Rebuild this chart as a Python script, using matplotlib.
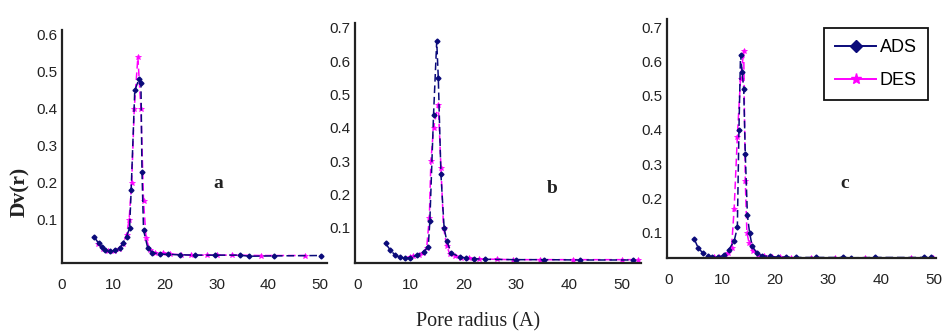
import matplotlib
matplotlib.use("Agg")
import matplotlib.pyplot as plt
from matplotlib.lines import Line2D
from matplotlib.axes import Axes

# | data |----------------------------------------------------------------------------------------------------------|
ads_a_r: list[float] = [6.2, 7.1, 7.7, 8.3, 9.3, 10.2, 11.2, 11.8, 12.5, 13.1, 13.4, 14.1, 14.9, 15.3, 15.5, 15.8,
                        16.6, 17.5, 19.0, 20.6, 22.9, 25.8, 29.6, 34.4, 36.3, 41.0, 50.2]
ads_a_v: list[float] = [0.055, 0.037, 0.026, 0.019, 0.015, 0.018, 0.023, 0.037, 0.055, 0.078, 0.18, 0.45, 0.48,
                        0.47, 0.23, 0.073, 0.025, 0.012, 0.008, 0.007, 0.006, 0.005, 0.005, 0.005, 0.002, 0.003,
                        0.004]
des_a_r: list[float] = [7.0, 8.0, 9.0, 10.0, 11.0, 11.8, 12.5, 13.0, 13.5, 14.0, 14.7, 15.3, 15.8, 16.3, 17.0,
                        18.0, 19.5, 21.0, 23.0, 25.0, 28.0, 30.0, 33.0, 38.5, 47.0]
des_a_v: list[float] = [0.035, 0.022, 0.016, 0.017, 0.022, 0.035, 0.06, 0.10, 0.20, 0.40, 0.54, 0.40, 0.15, 0.05,
                        0.02, 0.012, 0.010, 0.008, 0.006, 0.005, 0.005, 0.005, 0.005, 0.004, 0.004]

ads_b_r: list[float] = [5.2, 6.1, 7.0, 8.0, 8.9, 9.8, 11.1, 12.4, 13.3, 13.6, 14.3, 14.9, 15.2, 15.7, 16.3, 16.8,
                        17.7, 19.4, 20.5, 22.0, 24.0, 30.0, 35.2, 42.0, 52.0]
ads_b_v: list[float] = [0.053, 0.033, 0.018, 0.011, 0.008, 0.010, 0.017, 0.027, 0.043, 0.12, 0.44, 0.66, 0.55,
                        0.26, 0.10, 0.06, 0.023, 0.012, 0.009, 0.007, 0.005, 0.004, 0.004, 0.003, 0.003]
des_b_r: list[float] = [9.8, 10.5, 11.5, 12.3, 13.0, 13.5, 13.8, 14.3, 15.2, 15.7, 16.2, 16.8, 17.4, 18.3, 19.5,
                        21.0, 23.0, 26.3, 29.3, 34.5, 40.7, 50.0, 53.0]
des_b_v: list[float] = [0.012, 0.014, 0.018, 0.025, 0.04, 0.13, 0.30, 0.40, 0.47, 0.28, 0.10, 0.045, 0.02, 0.014,
                        0.010, 0.008, 0.006, 0.005, 0.004, 0.004, 0.004, 0.004, 0.004]

ads_c_r: list[float] = [4.8, 5.5, 6.4, 7.3, 8.2, 9.2, 10.4, 11.3, 12.3, 12.9, 13.2, 13.5, 13.8, 14.1, 14.4, 14.8,
                        15.2, 15.7, 16.6, 17.5, 19.0, 20.5, 22.0, 24.0, 27.7, 32.9, 34.4, 38.8, 48.1, 49.4]
ads_c_v: list[float] = [0.08, 0.055, 0.04, 0.031, 0.027, 0.027, 0.034, 0.05, 0.075, 0.115, 0.40, 0.62, 0.57,
                        0.52, 0.33, 0.15, 0.10, 0.06, 0.04, 0.032, 0.030, 0.028, 0.028, 0.027, 0.027, 0.027,
                        0.026, 0.027, 0.027, 0.027]
des_c_r: list[float] = [8.5, 9.5, 10.5, 11.2, 11.8, 12.3, 12.9, 13.5, 14.1, 14.4, 14.7, 15.1, 15.8, 16.8, 18.0,
                        19.5, 21.0, 23.0, 26.8, 31.4, 37.0, 45.7, 49.8]
des_c_v: list[float] = [0.027, 0.029, 0.032, 0.04, 0.055, 0.17, 0.38, 0.55, 0.63, 0.25, 0.10, 0.07, 0.045, 0.035,
                        0.030, 0.028, 0.027, 0.026, 0.026, 0.026, 0.026, 0.026, 0.026]

panel_labels: list[str] = ["a", "b", "c"]
y_ticks_a: list[float] = [0.1, 0.2, 0.3, 0.4, 0.5, 0.6]
y_ticks_bc: list[float] = [0.1, 0.2, 0.3, 0.4, 0.5, 0.6, 0.7]
x_ticks: list[int] = [0, 10, 20, 30, 40, 50]

# | style |---------------------------------------------------------------------------------------------------------|
ads_color: str = "#0a0a7a"
des_color: str = "#ff00ff"
spine_color: str = "#222222"
dash: tuple = (0, (5, 2.5))

fig = plt.figure(figsize=(9.42, 3.36), dpi=100, facecolor="w")

# [left, bottom, width, height], xlim, ylim, yticks, label position (axes fraction)
panels: list[tuple] = [
    ([0.0658, 0.2173, 0.2813, 0.6935], (0.76, 51.34), (-0.0162, 0.6135), y_ticks_a, (0.59, 0.34),
     ads_a_r, ads_a_v, des_a_r, des_a_v),
    ([0.3769, 0.2173, 0.3036, 0.7143], (-0.57, 53.6), (-0.006, 0.715), y_ticks_bc, (0.69, 0.31),
     ads_b_r, ads_b_v, des_b_r, des_b_v),
    ([0.7081, 0.2321, 0.2856, 0.7113], (-0.37, 50.4), (0.0254, 0.7243), y_ticks_bc, (0.66, 0.31),
     ads_c_r, ads_c_v, des_c_r, des_c_v),
]


def draw_panel(ax: Axes, xlim, ylim, yticks, lab_pos, label: str, ar, av, dr, dv) -> None:
    ax.plot(dr, dv, color=des_color, linestyle=dash, linewidth=1.1,
            marker="*", markersize=3.8, markeredgewidth=0.5)
    ax.plot(ar, av, color=ads_color, linestyle=dash, linewidth=1.1,
            marker="D", markersize=2.5)
    ax.set_xlim(xlim)
    ax.set_ylim(ylim)
    ax.set_xticks(x_ticks)
    ax.set_yticks(yticks)
    ax.set_yticklabels([f"{t:.1f}" for t in yticks])
    for side in ("top", "right"):
        ax.spines[side].set_visible(False)
    for side in ("left", "bottom"):
        ax.spines[side].set_color(spine_color)
        ax.spines[side].set_linewidth(1.6)
    ax.tick_params(axis="both", length=0, labelsize=11, colors="#222222",
                   labelfontfamily="Liberation Sans")
    ax.tick_params(axis="x", pad=11)
    ax.tick_params(axis="y", pad=3)
    ax.patch.set_alpha(0)
    ax.text(lab_pos[0], lab_pos[1], label, transform=ax.transAxes, fontsize=14,
            family="Liberation Serif", fontweight="bold", color="#222222",
            ha="center", va="center")


for i, p in enumerate(panels):
    ax = fig.add_axes(p[0])
    draw_panel(ax, p[1], p[2], p[3], p[4], panel_labels[i], p[5], p[6], p[7], p[8])

fig.text(0.021, 0.43, "Dv(r)", rotation=90, fontsize=15.5, family="Liberation Serif",
         fontweight="bold", color="#222222", ha="center", va="center")
fig.text(0.508, 0.042, "Pore radius (A)", fontsize=14.5, family="Liberation Serif",
         color="#222222", ha="center", va="center")

handles = [
    Line2D([], [], color=ads_color, linewidth=1.4, marker="D", markersize=6),
    Line2D([], [], color=des_color, linewidth=1.4, marker="*", markersize=8),
]
leg = fig.legend(handles, ["ADS", "DES"], loc="upper left", bbox_to_anchor=(824 / 942, 1 - 28 / 336),
                 borderaxespad=0, fancybox=False, framealpha=1, edgecolor="#111111",
                 prop={"family": "Liberation Sans", "size": 13}, handlelength=2.3,
                 handletextpad=0.2, labelspacing=0.9, borderpad=0.6)
leg.get_frame().set_linewidth(1.3)

fig.savefig("out.png", dpi=100, facecolor="w")
